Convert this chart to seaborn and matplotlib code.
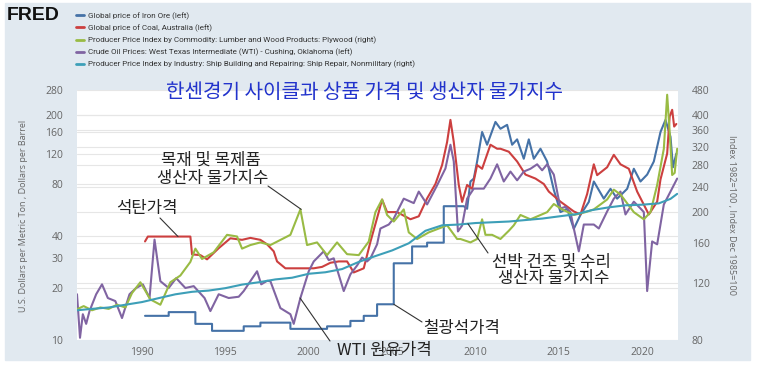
import numpy as np
import pandas as pd
import seaborn as sns
import matplotlib.pyplot as plt
from matplotlib import font_manager
from matplotlib.patches import Rectangle
from matplotlib.ticker import NullFormatter

sns.set_style("white")
plt.rcParams['font.family'] = ['Open Sans', 'DejaVu Sans']

installed = {f.name for f in font_manager.fontManager.ttflist}
narrow = 'Liberation Sans Narrow' if 'Liberation Sans Narrow' in installed else 'Roboto'
leg_size = 6.2 if narrow == 'Liberation Sans Narrow' else 5.8
kr = ['Noto Sans CJK KR', 'DejaVu Sans']

# ---- series (year, value) ----
# Global price of Iron Ore (left), annual steps until 2009
iron_yr = [1990.18, 1991.6, 1991.6, 1993.2, 1993.2, 1994.2, 1994.2, 1996.1, 1996.1, 1997.1,
           1997.1, 1998.9, 1998.9, 2001.1, 2001.1, 2002.5, 2002.5, 2003.3, 2003.3, 2004.1,
           2004.1, 2005.1, 2005.1, 2006.2, 2006.2, 2007.1, 2007.1, 2008.1, 2008.1, 2009.3,
           2009.5, 2009.7, 2009.9, 2010.1, 2010.4, 2010.7, 2011.2, 2011.5, 2011.9, 2012.2,
           2012.5, 2012.9, 2013.2, 2013.5, 2013.9, 2014.3, 2014.7, 2015.1, 2015.5, 2015.9,
           2016.3, 2016.8, 2017.1, 2017.7, 2018.1, 2018.5, 2019.1, 2019.5, 2019.9, 2020.3,
           2020.7, 2021.1, 2021.4, 2021.7, 2021.85, 2022.05]
iron_val = [13.8, 13.8, 14.5, 14.5, 12.4, 12.4, 11.3, 11.3, 12.0, 12.0,
            12.6, 12.6, 11.6, 11.6, 12.0, 12.0, 12.9, 12.9, 13.8, 13.8,
            16.1, 16.1, 27.8, 27.8, 34.8, 34.8, 36.6, 36.6, 59.5, 59.5,
            57.5, 82.7, 86, 108, 160, 135, 183, 167, 176, 135,
            145, 112, 145, 112, 128, 108, 74, 55, 57.5, 44,
            53, 63, 82.7, 65.8, 75, 65.8, 75, 98, 82.7, 90.7,
            108, 160, 188, 150, 100, 120]

# Global price of Coal, Australia (left)
coal_yr = [1990.18, 1990.35, 1992.9, 1993.0, 1993.5, 1993.9, 1994.6, 1995.3, 1996.0, 1996.5,
           1997.1, 1997.5, 1997.9, 1998.1, 1998.6, 2000.3, 2000.8, 2001.3, 2001.8, 2002.3,
           2002.7, 2003.3, 2003.7, 2004.2, 2004.4, 2004.7, 2005.3, 2006.1, 2006.6, 2007.1,
           2007.6, 2008.0, 2008.3, 2008.5, 2008.7, 2009.0, 2009.2, 2009.5, 2009.8, 2010.1,
           2010.4, 2010.9, 2011.3, 2011.5, 2012.0, 2012.5, 2013.0, 2013.6, 2014.1, 2014.4,
           2015.1, 2015.9, 2016.3, 2016.7, 2017.1, 2017.3, 2017.9, 2018.3, 2018.7, 2019.2,
           2019.7, 2020.4, 2020.9, 2021.1, 2021.5, 2021.65, 2021.8, 2021.92, 2022.05]
coal_val = [37.2, 39.7, 39.7, 31.3, 31.0, 29.3, 34.0, 38.8, 38.0, 39.0,
            38.0, 35.8, 32.6, 28.5, 26.0, 26.0, 26.5, 28.0, 28.5, 28.5,
            24.6, 26.0, 37.0, 55.0, 65.0, 55.0, 55.0, 50.0, 52.0, 66.0,
            80.0, 103, 140, 188, 140, 79, 63, 79, 75, 103,
            98, 135, 128, 128, 123, 108, 90.7, 86, 80, 72.3,
            63.2, 55.5, 53.3, 70, 104, 90, 100, 118, 104, 98,
            72.3, 53.3, 63.2, 85, 120, 197, 215, 172, 178]

# PPI by Commodity: Lumber and Wood Products: Plywood (right)
ply_yr = [1986.1, 1986.5, 1987.0, 1987.5, 1988.0, 1988.5, 1989.0, 1989.4, 1989.9, 1990.5,
          1991.1, 1991.7, 1992.3, 1992.9, 1993.2, 1993.6, 1994.3, 1995.1, 1995.7, 1996.0,
          1996.5, 1997.1, 1997.7, 1998.9, 1999.5, 1999.9, 2000.5, 2001.1, 2001.7, 2002.3,
          2003.0, 2003.6, 2004.0, 2004.4, 2004.7, 2005.1, 2005.7, 2006.0, 2006.5, 2007.2,
          2008.3, 2008.9, 2009.1, 2009.7, 2010.1, 2010.4, 2010.6, 2011.0, 2011.5, 2012.0,
          2012.3, 2012.7, 2013.3, 2014.3, 2014.7, 2015.2, 2015.9, 2016.6, 2017.1, 2017.9,
          2018.3, 2018.7, 2019.5, 2020.1, 2020.5, 2020.9, 2021.3, 2021.5, 2021.65, 2021.8,
          2021.95, 2022.1]
ply_val = [99.7, 102, 99, 101, 100, 103, 101, 112, 121, 107,
           103, 121, 127, 140, 154, 143, 150, 170, 168, 154,
           158, 161, 158, 170, 204, 158, 161, 147, 161, 148,
           147, 162, 200, 219, 196, 187, 204, 173, 165, 173,
           182, 165, 165, 161, 165, 190, 170, 170, 165, 175,
           182, 196, 190, 200, 212, 204, 196, 200, 204, 219,
           235, 227, 200, 190, 200, 243, 315, 464, 356, 261,
           265, 315]

# Crude Oil Prices: WTI - Cushing, Oklahoma (left)
wti_yr = [1986.1, 1986.28, 1986.45, 1986.65, 1986.85, 1987.25, 1987.6, 1987.95, 1988.4, 1988.8,
          1989.25, 1989.65, 1990.05, 1990.45, 1990.75, 1991.1, 1991.6, 1992.05, 1992.6, 1993.1,
          1993.75, 1994.1, 1994.6, 1995.2, 1995.8, 1996.1, 1996.9, 1997.15, 1997.5, 1997.7,
          1998.3, 1998.9, 1999.1, 1999.5, 2000.0, 2000.3, 2000.9, 2001.2, 2001.5, 2002.1,
          2002.5, 2002.9, 2003.2, 2003.5, 2003.7, 2004.1, 2004.3, 2004.8, 2005.1, 2005.7,
          2006.3, 2006.6, 2007.1, 2007.7, 2008.2, 2008.5, 2008.7, 2008.95, 2009.2, 2009.5,
          2009.9, 2010.5, 2010.9, 2011.3, 2011.7, 2012.1, 2012.5, 2012.9, 2013.3, 2013.7,
          2014.0, 2014.3, 2014.7, 2015.1, 2015.4, 2015.7, 2015.9, 2016.2, 2016.5, 2017.1,
          2017.4, 2017.9, 2018.3, 2018.7, 2019.0, 2019.5, 2019.9, 2020.1, 2020.3, 2020.6,
          2020.9, 2021.3, 2021.7, 2022.1]
wti_val = [18.4, 10.3, 14.1, 12.4, 14.7, 18.4, 21.0, 17.5, 16.8, 13.4,
           18.4, 20.0, 21.0, 17.5, 38.1, 21.9, 20.0, 22.8, 20.0, 20.5,
           17.5, 14.7, 18.4, 17.5, 17.8, 19.2, 25.0, 21.0, 22.0, 21.9,
           15.3, 14.1, 12.4, 17.5, 25.0, 28.5, 32.6, 29.0, 29.7, 19.2,
           24.0, 27.0, 30.0, 28.5, 29.7, 35.8, 44.2, 46.6, 50.5, 65.8,
           62.0, 72.3, 60.9, 78.6, 98.4, 135, 108, 42.5, 46.0, 65.8,
           75.2, 75.2, 86.0, 104, 82.7, 94.4, 84.0, 94.4, 98.0, 104,
           96.0, 104, 90.7, 57.7, 59.0, 55.0, 44.2, 32.6, 46.6, 46.6,
           44.2, 55.5, 65.8, 72.3, 53.3, 63.2, 57.7, 55.0, 19.2, 37.2,
           35.8, 60.9, 72.3, 86.0]

# PPI by Industry: Ship Building and Repairing: Ship Repair, Nonmilitary (right)
ship_yr = [1986.1, 1987.0, 1988.0, 1989.0, 1990.0, 1991.0, 1992.0, 1993.0, 1994.0, 1995.0,
           1996.0, 1997.0, 1998.0, 1999.0, 2000.0, 2001.0, 2002.0, 2003.0, 2004.0, 2005.0,
           2006.0, 2007.0, 2008.0, 2009.0, 2010.0, 2011.0, 2012.0, 2013.0, 2014.0, 2015.0,
           2016.0, 2017.0, 2018.0, 2019.0, 2020.0, 2021.0, 2021.7, 2022.1]
ship_val = [99, 100, 101, 103, 105, 108, 111, 113, 114, 116,
            119, 121, 123.5, 125, 128.6, 130, 133, 140, 146, 152,
            160, 175, 182, 183, 185, 186, 187, 189, 191, 194,
            197, 203, 207, 210, 211, 213, 220, 228]

labels = ["Global price of Iron Ore (left)",
          "Global price of Coal, Australia (left)",
          "Producer Price Index by Commodity: Lumber and Wood Products: Plywood (right)",
          "Crude Oil Prices: West Texas Intermediate (WTI) - Cushing, Oklahoma (left)",
          "Producer Price Index by Industry: Ship Building and Repairing: Ship Repair, Nonmilitary (right)"]
colors = ['#4572a7', '#cc3f3f', '#99bb44', '#8064a2', '#3d9fb8']

left_ticks = [10, 20, 30, 40, 80, 120, 160, 200, 280]
right_ticks = [80, 120, 160, 200, 240, 280, 320, 360, 400, 480]
x_ticks = [1990, 1995, 2000, 2005, 2010, 2015, 2020]

title = "한센경기 사이클과 상품 가격 및 생산자 물가지수"

# ---- figure ----
W, H = 757, 377
fig = plt.figure(figsize=(W / 100, H / 100), dpi=100, facecolor='white')
fig.patches.append(Rectangle((5 / W, 17 / H), 745 / W, 357 / H, transform=fig.transFigure,
                             color='#e1e9f0', zorder=-10))

ax = fig.add_axes([77 / W, 37 / H, 601 / W, 250 / H])
ax.set_facecolor('white')
ax2 = ax.twinx()

kw = dict(lw=1.5, estimator=None, sort=False)
sns.lineplot(x=iron_yr, y=iron_val, ax=ax, color=colors[0], label=labels[0], **kw)
sns.lineplot(x=coal_yr, y=coal_val, ax=ax, color=colors[1], label=labels[1], **kw)
sns.lineplot(x=wti_yr, y=wti_val, ax=ax, color=colors[3], label=labels[3], **kw)
sns.lineplot(x=ply_yr, y=ply_val, ax=ax2, color=colors[2], label=labels[2], **kw)
sns.lineplot(x=ship_yr, y=ship_val, ax=ax2, color=colors[4], label=labels[4], **kw)
for a in (ax, ax2):
    if a.get_legend() is not None:
        a.get_legend().remove()
    for s in a.spines.values():
        s.set_visible(False)

ax.set_xlim(1986.1, 2022.15)
ax.set_yscale('log')
ax.set_ylim(10, 280)
ax2.set_yscale('log')
ax2.set_ylim(80, 480)

ax.set_yticks(left_ticks)
ax.set_yticklabels([str(t) for t in left_ticks])
# grid positions of the right axis expressed on the left scale
frac = np.log(np.array(right_ticks) / 80) / np.log(480 / 80)
ax.set_yticks(list(10 * 28 ** frac), minor=True)
ax.yaxis.set_minor_formatter(NullFormatter())
ax2.set_yticks(right_ticks)
ax2.set_yticklabels([str(t) for t in right_ticks])
ax2.set_yticks([], minor=True)
ax.set_xticks(x_ticks)
ax.set_xticklabels([str(t) for t in x_ticks])

ax.grid(True, axis='y', which='both', color='#e6e6e6', lw=0.8)
ax.grid(False, axis='x')
ax2.grid(False)
ax.set_axisbelow(True)

ax.tick_params(axis='y', which='both', length=0, pad=10, labelsize=7.5, labelcolor='#666666')
ax2.tick_params(axis='y', which='both', length=0, pad=10, labelsize=7.5, labelcolor='#666666')
ax.tick_params(axis='x', length=0, pad=5, labelsize=7.5, labelcolor='#666666')
ax.set_xlabel('')
ax.set_ylabel('')
ax2.set_ylabel('')

fig.text(24 / W, 1 - 216 / H, "U.S. Dollars per Metric Ton , Dollars per Barrel", rotation=90,
         ha='center', va='center', fontsize=6.5, color='#666666')
fig.text(731 / W, 1 - 215 / H, "Index 1982=100 , Index Dec 1985=100", rotation=270,
         ha='center', va='center', fontsize=6.5, color='#666666')

# legend like FRED's header
hd = {}
for a in (ax, ax2):
    for h, l in zip(*a.get_legend_handles_labels()):
        hd[l] = h
leg = fig.legend([hd[l] for l in labels], labels, loc='upper left',
                 bbox_to_anchor=(69 / W, 1 - 5 / H), frameon=False,
                 handlelength=0.9, handletextpad=0.5, labelspacing=0.55,
                 prop={'family': narrow, 'size': leg_size})
for line in leg.get_lines():
    line.set_linewidth(2)
for t in leg.get_texts():
    t.set_color('#333333')

fig.text(7 / W, 1 - 15 / H, "FRED", fontsize=14, fontweight='heavy', family='Liberation Sans',
         ha='left', va='center', color='#111111')

# Korean title and notes
fig.text(365 / W, 1 - 93 / H, title, color='#2233cc', fontsize=14.5, ha='center', va='center',
         family=kr)
note = dict(ha='center', va='center', fontsize=12, family=kr, color='#222222')
fig.text(211 / W, 1 - 160 / H, "목재 및 목제품", **note)
fig.text(213 / W, 1 - 178 / H, "생산자 물가지수", **note)
fig.text(147 / W, 1 - 208 / H, "석탄가격", **note)
fig.text(384 / W, 1 - 350 / H, "WTI 원유가격", **note)
fig.text(462 / W, 1 - 328 / H, "철광석가격", **note)
fig.text(551 / W, 1 - 262 / H, "선박 건조 및 수리", **note)
fig.text(554 / W, 1 - 279 / H, "생산자 물가지수", **note)

lk = dict(arrowstyle='-', color='#333333', lw=0.8, shrinkA=0, shrinkB=0)
ax2.annotate('', xy=(1999.55, 204), xytext=(268, H - 186), textcoords='figure pixels', arrowprops=lk)
ax.annotate('', xy=(1992.16, 39.7), xytext=(160, H - 218), textcoords='figure pixels', arrowprops=lk)
ax.annotate('', xy=(1999.48, 17.5), xytext=(330, H - 341), textcoords='figure pixels', arrowprops=lk)
ax.annotate('', xy=(2005.1, 16.1), xytext=(422, H - 322), textcoords='figure pixels', arrowprops=lk)
ax2.annotate('', xy=(2009.55, 184), xytext=(488, H - 253), textcoords='figure pixels', arrowprops=lk)

fig.savefig('out.png', dpi=100, facecolor='white')
